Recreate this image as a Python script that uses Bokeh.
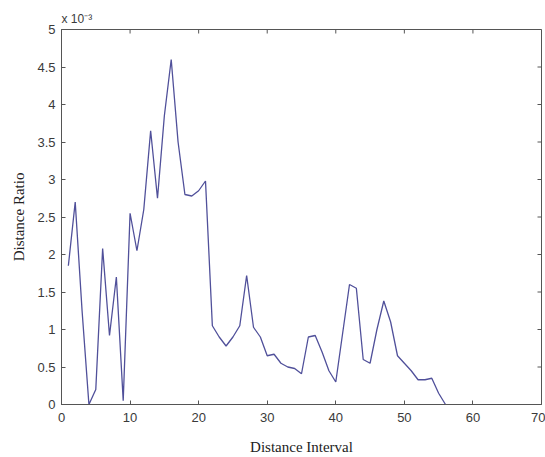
import math
from bokeh.plotting import figure
from bokeh.models import FixedTicker, Range1d
from bokeh.embed import file_html
from bokeh.resources import INLINE

# Distance interval index and distance ratio (in units of 1e-3)
interval = list(range(1, 57))
ratio_e3 = [1.85, 2.70, 1.25, 0.00, 0.20, 2.08, 0.92, 1.70, 0.05, 2.55,
            2.05, 2.60, 3.65, 2.75, 3.85, 4.60, 3.50, 2.80, 2.78, 2.85,
            2.98, 1.05, 0.90, 0.78, 0.90, 1.05, 1.72, 1.03, 0.90, 0.65,
            0.67, 0.55, 0.50, 0.48, 0.41, 0.90, 0.92, 0.70, 0.45, 0.30,
            0.95, 1.60, 1.55, 0.60, 0.55, 1.00, 1.38, 1.10, 0.65, 0.55,
            0.45, 0.33, 0.33, 0.35, 0.15, 0.00]
x_ticks = [0, 10, 20, 30, 40, 50, 60, 70]
y_ticks = [0, 0.5, 1, 1.5, 2, 2.5, 3, 3.5, 4, 4.5, 5]
x_title = "Distance Interval"
y_title = "Distance Ratio"
scale_note = "x 10\u207b\u00b3"

AX = "#555555"
LBL = "#3a3a3a"
X_MAX, Y_MAX = 70, 5

p = figure(width=545, height=457, output_backend="svg", toolbar_location=None,
           x_range=Range1d(0, X_MAX), y_range=Range1d(0, Y_MAX),
           min_border_left=61, min_border_right=4, min_border_top=29,
           min_border_bottom=53, background_fill_color="white",
           border_fill_color="white")
p.grid.grid_line_color = None
p.outline_line_color = AX

for ax in p.xaxis + p.yaxis:
    ax.axis_line_color = AX
    ax.major_tick_line_color = AX
    ax.major_tick_in = 4
    ax.major_tick_out = 0
    ax.minor_tick_line_color = None
    ax.major_label_text_font = "Liberation Sans"
    ax.major_label_text_font_size = "13px"
    ax.major_label_text_color = LBL
    ax.axis_label_text_font = "Liberation Serif"
    ax.axis_label_text_font_size = "15px"
    ax.axis_label_text_font_style = "normal"
    ax.axis_label_text_color = "#222222"

p.xaxis.ticker = FixedTicker(ticks=x_ticks)
p.yaxis.ticker = FixedTicker(ticks=y_ticks)
p.xaxis.axis_label = x_title
p.yaxis.axis_label = y_title
p.xaxis.major_label_standoff = 8
p.yaxis.major_label_standoff = 6
p.xaxis.axis_label_standoff = 14
p.yaxis.axis_label_standoff = 7

# tick marks on the top and right edges of the box, pointing inward
p.ray(x=x_ticks, y=[Y_MAX] * len(x_ticks), length=4, length_units="screen",
      angle=-math.pi / 2, line_color=AX, line_width=1)
p.ray(x=[X_MAX] * len(y_ticks), y=y_ticks, length=4, length_units="screen",
      angle=math.pi, line_color=AX, line_width=1)

p.line(interval, ratio_e3, line_color="#50509a", line_width=1.3)

p.title.text = scale_note
p.title.align = "left"
p.title.text_font = "Liberation Sans"
p.title.text_font_size = "12px"
p.title.text_font_style = "normal"
p.title.text_color = LBL
p.title.standoff = 8

open("out.html", "w").write(file_html(p, INLINE))
